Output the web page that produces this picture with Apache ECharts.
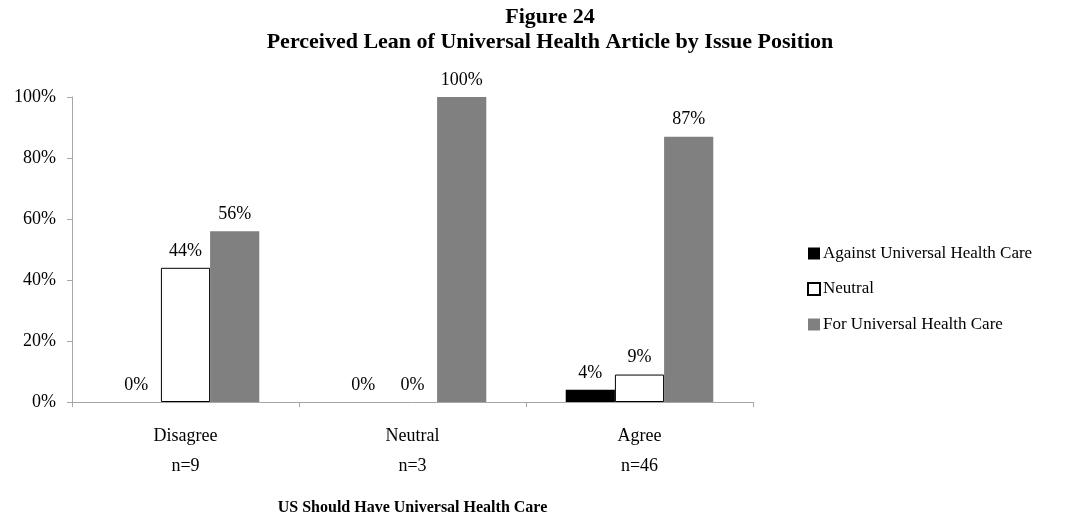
<!DOCTYPE html>
<html>
<head>
<meta charset="utf-8">
<script src="https://cdn.jsdelivr.net/npm/echarts@6/dist/echarts.min.js"></script>
<style>
  html, body { margin: 0; padding: 0; background: #fff; }
  #chart { width: 1087px; height: 514px; }
</style>
</head>
<body>
<div id="chart"></div>
<script>
// Issue positions (with sample sizes) on the category axis
const categories = ['Disagree\nn=9', 'Neutral\nn=3', 'Agree\nn=46'];
// Perceived lean of the article, percent of respondents
const againstValues = [0, 0, 4];
const neutralValues = [44, 0, 9];
const forValues = [56, 100, 87];
const seriesNames = ['Against Universal Health Care', 'Neutral', 'For Universal Health Care'];
const yTicks = [0, 20, 40, 60, 80, 100];

const serif = '"Liberation Serif", "Times New Roman", serif';
const axisGray = '#a6a6a6';

const labelStyle = {
  show: true,
  position: 'top',
  distance: 8,
  fontFamily: serif,
  fontSize: 18,
  color: '#000',
  formatter: p => p.value + '%'
};

// outlined bars get no border when empty, so a 0% bar leaves no stroke
const outlined = values => values.map(v => ({
  value: v,
  itemStyle: { borderWidth: v === 0 ? 0 : 1 }
}));

const chart = echarts.init(document.getElementById('chart'));
chart.setOption({
  animation: false,
  textStyle: { fontFamily: serif, color: '#000' },
  title: {
    text: 'Figure 24\nPerceived Lean of Universal Health Article by Issue Position',
    left: 545,
    textAlign: 'center',
    top: 0,
    textStyle: {
      fontFamily: serif,
      fontWeight: 'bold',
      fontSize: 22,
      lineHeight: 25,
      color: '#000'
    }
  },
  legend: {
    orient: 'vertical',
    left: 802,
    top: 240,
    itemWidth: 12,
    itemHeight: 12,
    itemGap: 18.5,
    icon: 'rect',
    textStyle: { fontFamily: serif, fontSize: 17, color: '#000', padding: [0, 0, 0, -2] },
    data: seriesNames
  },
  grid: { left: 72, right: 334, top: 97, bottom: 112, outerBoundsMode: 'none', containLabel: false },
  xAxis: {
    type: 'category',
    data: categories,
    name: 'US Should Have Universal Health Care',
    nameLocation: 'middle',
    nameGap: 98,
    nameTextStyle: { fontFamily: serif, fontWeight: 'bold', fontSize: 16, color: '#000' },
    axisLine: { lineStyle: { color: axisGray, width: 1 } },
    axisTick: { show: true, length: 5, lineStyle: { color: axisGray } },
    axisLabel: {
      fontFamily: serif,
      fontSize: 18,
      color: '#000',
      lineHeight: 30,
      margin: 19
    }
  },
  yAxis: {
    type: 'value',
    min: yTicks[0],
    max: yTicks[yTicks.length - 1],
    interval: 20,
    splitLine: { show: false },
    axisLine: { show: true, lineStyle: { color: axisGray, width: 1 } },
    axisTick: { show: true, length: 5, lineStyle: { color: axisGray } },
    axisLabel: {
      fontFamily: serif,
      fontSize: 18,
      color: '#000',
      margin: 16,
      formatter: v => v + '%'
    }
  },
  series: [
    {
      name: seriesNames[0],
      type: 'bar',
      data: againstValues,
      barGap: '0%',
      barCategoryGap: '35%',
      itemStyle: { color: '#000000' },
      label: labelStyle
    },
    {
      name: seriesNames[1],
      type: 'bar',
      data: outlined(neutralValues),
      itemStyle: { color: '#ffffff', borderColor: '#000000', borderWidth: 1 },
      label: labelStyle
    },
    {
      name: seriesNames[2],
      type: 'bar',
      data: forValues,
      itemStyle: { color: '#808080' },
      label: labelStyle
    }
  ]
});
</script>
</body>
</html>
